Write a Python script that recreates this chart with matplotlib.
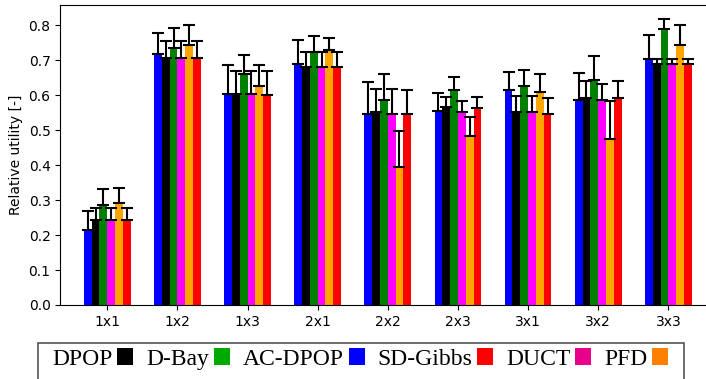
import numpy as np
import matplotlib
matplotlib.use("Agg")
import matplotlib.pyplot as plt
from matplotlib.patches import Patch, Rectangle

# grid sizes on the x axis
categories = ["1x1", "1x2", "1x3", "2x1", "2x2", "2x3", "3x1", "3x2", "3x3"]

# mean relative utility per algorithm (bar order left to right)
blue_vals    = [0.215, 0.717, 0.602, 0.688, 0.545, 0.554, 0.615, 0.585, 0.703]
black_vals   = [0.243, 0.705, 0.604, 0.681, 0.551, 0.566, 0.551, 0.592, 0.690]
green_vals   = [0.285, 0.736, 0.660, 0.724, 0.585, 0.616, 0.625, 0.643, 0.790]
magenta_vals = [0.243, 0.705, 0.604, 0.681, 0.547, 0.553, 0.551, 0.587, 0.690]
orange_vals  = [0.291, 0.744, 0.627, 0.729, 0.396, 0.484, 0.608, 0.475, 0.743]
red_vals     = [0.243, 0.705, 0.600, 0.681, 0.547, 0.564, 0.546, 0.591, 0.690]

# upper error (only the upper half is drawn)
blue_err    = [0.055, 0.062, 0.085, 0.070, 0.093, 0.053, 0.052, 0.079, 0.070]
black_err   = [0.034, 0.051, 0.065, 0.043, 0.066, 0.030, 0.047, 0.048, 0.013]
green_err   = [0.047, 0.057, 0.054, 0.044, 0.076, 0.037, 0.046, 0.069, 0.027]
magenta_err = [0.034, 0.051, 0.065, 0.043, 0.072, 0.031, 0.047, 0.046, 0.013]
orange_err  = [0.044, 0.056, 0.058, 0.035, 0.101, 0.055, 0.053, 0.108, 0.057]
red_err     = [0.034, 0.051, 0.069, 0.043, 0.068, 0.032, 0.047, 0.049, 0.013]

bar_colors = ["blue", "black", "green", "magenta", "orange", "red"]
all_vals = [blue_vals, black_vals, green_vals, magenta_vals, orange_vals, red_vals]
all_errs = [blue_err, black_err, green_err, magenta_err, orange_err, red_err]

# legend (drawn separately, own colours)
legend_labels = ["DPOP", "D-Bay", "AC-DPOP", "SD-Gibbs", "DUCT", "PFD"]
legend_colors = ["#000000", "#00aa00", "#0000ff", "#ff0000", "#e8008a", "#ff8000"]

W, H = 706, 379
fig = plt.figure(figsize=(W / 100, H / 100), dpi=100)

ax_l, ax_r, ax_t, ax_b = 60.3, 715.3, 5.3, 305
ax = fig.add_axes([ax_l / W, 1 - ax_b / H, (ax_r - ax_l) / W, (ax_b - ax_t) / H])

x = np.arange(len(categories))
width = 0.667 / 6
for i in range(6):
    pos = x - 0.3335 + width * (i + 0.5)
    err = [np.zeros(len(categories)), all_errs[i]]
    ax.bar(pos, all_vals[i], width, color=bar_colors[i], yerr=err,
           error_kw=dict(ecolor="black", elinewidth=1.5, capsize=4, capthick=1.5))

ax.set_xlim(-0.67, 8.67)
ax.set_ylim(0, 0.857)
ax.set_xticks(x)
ax.set_xticklabels(categories, fontsize=10)
ax.set_yticks(np.arange(0, 0.81, 0.1))
ax.set_yticklabels([f"{v:.1f}" for v in np.arange(0, 0.81, 0.1)], fontsize=10)
ax.set_ylabel("Relative utility [-]", fontsize=10)

# legend frame, cut off at the bottom of the picture
frame = Rectangle((38.3 / W, -0.1), (684.3 - 38.3) / W, 1 - 343.3 / H + 0.1,
                  transform=fig.transFigure, facecolor="white", edgecolor="#555555",
                  linewidth=1.2, zorder=5)
fig.patches.append(frame)

handles = [Patch(facecolor=c, edgecolor="none") for c in legend_colors]
leg = fig.legend(handles, legend_labels, loc="upper left",
                 bbox_to_anchor=(52.0 / W, 1 - 348.0 / H), ncol=6,
                 frameon=False, markerfirst=False, borderaxespad=0, borderpad=0,
                 handlelength=0.68, handleheight=0.7, handletextpad=0.2,
                 columnspacing=0.55, prop={"family": "Liberation Serif", "size": 17})
leg.set_zorder(6)

fig.savefig("out.png", dpi=100)
